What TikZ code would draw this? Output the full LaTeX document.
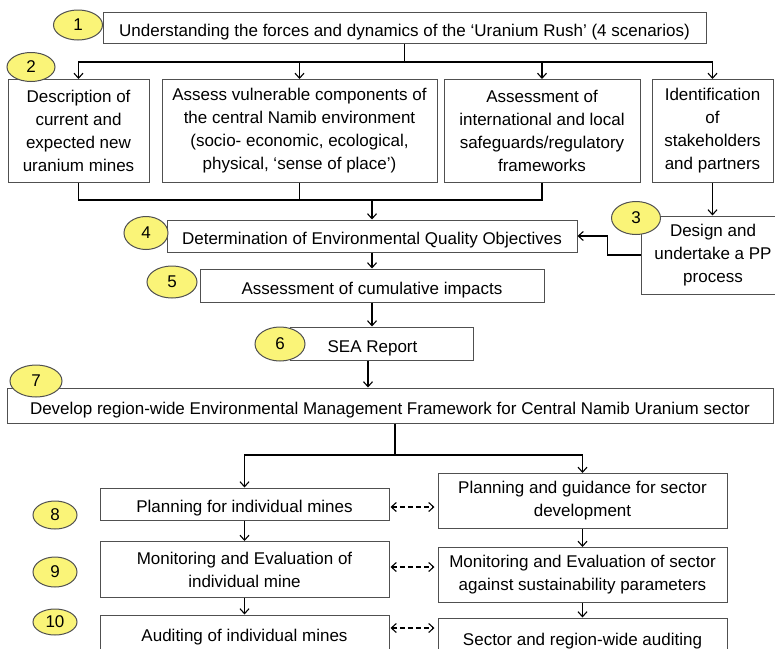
\documentclass[tikz,border=0pt]{standalone}
\usepackage{fontspec}
\setmainfont{Liberation Sans}
\usetikzlibrary{shapes.geometric,arrows.meta}
\definecolor{numfill}{RGB}{250,244,120}
\definecolor{linegray}{RGB}{80,80,80}
\begin{document}
\begin{tikzpicture}[x=1pt,y=-1pt,
  font=\fontsize{17}{23}\selectfont,
  line width=1.1pt,
  box/.style={draw=linegray, line width=1pt, inner sep=0pt, text height=17pt, text depth=0pt},
  multibox/.style={draw=linegray, line width=1pt, align=center, inner sep=0pt},
  num/.style={ellipse, draw=linegray, line width=1pt, fill=numfill, inner sep=0pt, minimum width=48, minimum height=31},
  twoway/.style={<->, dash pattern=on 5pt off 3pt, shorten >=3pt, shorten <=1pt},
  >={Straight Barb[length=5pt,width=9pt]}]
\useasboundingbox (0,0) rectangle (775,648);
\clip (0,0) rectangle (775,648);
\node[box, minimum width=603, minimum height=31] (und) at (404.5,27.5) {Understanding the forces and dynamics of the ‘Uranium Rush’ (4 scenarios)};
\node[multibox, minimum width=141, minimum height=103] (desc) at (78.5,131) {Description of\\current and\\expected new\\uranium mines};
\node[multibox, minimum width=275, minimum height=103] (vuln) at (299.5,131) {Assess vulnerable components of\\the central Namib environment\\(socio- economic, ecological,\\physical, ‘sense of place’)};
\node[multibox, minimum width=196, minimum height=103] (safe) at (542,131) {Assessment of\\international and local\\safeguards/regulatory\\frameworks};
\node[multibox, minimum width=121, minimum height=103] (ident) at (712.5,131) {Identification\\of\\stakeholders\\and partners};
\node[multibox, minimum width=144, minimum height=78] (pp) at (713,255) {Design and\\undertake a PP\\process};
\node[box, minimum width=410, minimum height=32] (eqo) at (372,236) {Determination of Environmental Quality Objectives};
\node[box, minimum width=344, minimum height=33] (cum) at (372,285.5) {Assessment of cumulative impacts};
\node[box, minimum width=183, minimum height=33] (sea) at (381.5,343.5) {\hspace*{-18pt}SEA Report};
\node[box, minimum width=766, minimum height=35] (emf) at (390,405.5) {Develop region-wide Environmental Management Framework for Central Namib Uranium sector};
\node[box, minimum width=289, minimum height=32] (pim) at (244.5,504) {Planning for individual mines};
\node[multibox, minimum width=289, minimum height=55] (psd) at (582.5,501) {Planning and guidance for sector\\development};
\node[multibox, minimum width=289, minimum height=56] (mim) at (244.5,569.5) {Monitoring and Evaluation of\\individual mine};
\node[multibox, minimum width=289, minimum height=55] (mse) at (582.5,575) {Monitoring and Evaluation of sector\\against sustainability parameters};
\node[box, minimum width=289, minimum height=36] (aim) at (244.5,633) {Auditing of individual mines};
\node[box, minimum width=289, minimum height=38] (srw) at (582.5,637) {Sector and region-wide auditing};
% numbers
\node[num, minimum width=49, minimum height=30] (n1) at (78,25) {1};
\node[num, minimum width=48, minimum height=29] (n2) at (31,67) {2};
\node[num, minimum width=49, minimum height=33] (n3) at (636,218) {3};
\node[num, minimum width=44, minimum height=33] (n4) at (146,233) {4};
\node[num, minimum width=50, minimum height=32] (n5) at (172,282) {5};
\node[num, minimum width=50, minimum height=34] (n6) at (280,344) {6};
\node[num, minimum width=52, minimum height=32] (n7) at (36,381) {7};
\node[num, minimum width=44, minimum height=28] (n8) at (55,515) {8};
\node[num, minimum width=44, minimum height=30] (n9) at (55,572) {9};
\node[num, minimum width=44, minimum height=26] (n10) at (55,622) {10};
% connectors
\coordinate (split1) at (404.5,62);
\coordinate (merge) at (372,200);
\coordinate (split2) at (395,455);
\draw (und) -- (split1);
\draw[->] (split1) -| (desc);
\draw[->] (split1) -| (vuln);
\draw[->] (split1) -| (safe);
\draw[->] (split1) -| (ident);
\draw (desc) |- (merge);
\draw (vuln) |- (merge);
\draw (safe) |- (merge);
\draw[->] (merge) -- (eqo);
\draw[->] (ident.south) -- (ident.south |- pp.north);
\draw[->] (pp.west) -- ++(-33,0) |- (eqo.east);
\draw[->] (eqo) -- (cum);
\draw[->] (cum.south) -- (cum.south |- sea.north);
\draw[->] (sea.south -| 368,0) -- (emf.north -| 368,0);
\draw (emf.south -| split2) -- (split2);
\draw[->] (split2) -| (pim);
\draw[->] (split2) -| (psd);
\draw[->] (pim) -- (mim);
\draw[->] (mim) -- (aim);
\draw[->] (psd) -- (mse);
\draw[->] (mse) -- (srw);
\draw[twoway] (pim.east |- 0,507) -- (psd.west |- 0,507);
\draw[twoway] (mim.east |- 0,567) -- (mse.west |- 0,567);
\draw[twoway] (aim.east |- 0,628) -- (srw.west |- 0,628);
\end{tikzpicture}
\end{document}
